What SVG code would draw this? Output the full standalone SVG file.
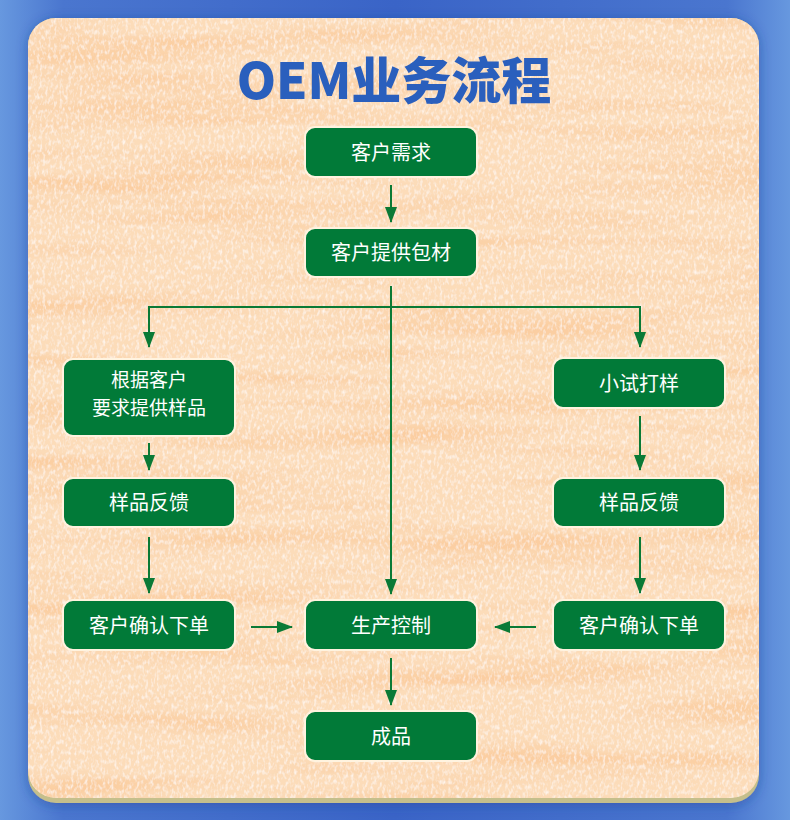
<svg xmlns="http://www.w3.org/2000/svg" width="790" height="820" viewBox="0 0 790 820">
<defs>
<linearGradient id="bg" x1="0" y1="0" x2="1" y2="0">
<stop offset="0" stop-color="#6798df"/>
<stop offset="0.08" stop-color="#4a76cf"/>
<stop offset="0.5" stop-color="#3a64c7"/>
<stop offset="0.92" stop-color="#4a76cf"/>
<stop offset="1" stop-color="#6798df"/>
</linearGradient>
<filter id="shadow" x="-10%" y="-10%" width="120%" height="120%">
<feGaussianBlur in="SourceAlpha" stdDeviation="6"/>
<feOffset dx="0" dy="2" result="b"/>
<feFlood flood-color="#1d3f8f" flood-opacity="0.45"/>
<feComposite in2="b" operator="in" result="sh"/>
<feMerge><feMergeNode in="sh"/><feMergeNode in="SourceGraphic"/></feMerge>
</filter>
<filter id="wood" x="0" y="0" width="100%" height="100%">
<feTurbulence type="fractalNoise" baseFrequency="0.003 0.04" numOctaves="3" seed="7" result="n"/>
<feColorMatrix in="n" type="matrix" values="0 0 0 0 0.96  0 0 0 0 0.62  0 0 0 0 0.36  3 0 0 0 -1.35" result="s"/>
<feComposite in="s" in2="SourceAlpha" operator="in" result="s2"/>
<feTurbulence type="fractalNoise" baseFrequency="0.35 0.2" numOctaves="2" seed="2" result="g"/>
<feColorMatrix in="g" type="matrix" values="0 0 0 0 1  0 0 0 0 1  0 0 0 0 1  1.6 0 0 0 -0.72" result="w"/>
<feComposite in="w" in2="SourceAlpha" operator="in" result="w2"/>
<feMerge><feMergeNode in="SourceGraphic"/><feMergeNode in="s2"/><feMergeNode in="w2"/></feMerge>
</filter>
<marker id="arr" viewBox="0 0 16 12" markerWidth="16" markerHeight="12" refX="15" refY="6" orient="auto" markerUnits="userSpaceOnUse">
<path d="M0,0 L16,6 L0,12 z" fill="#0a7a36"/>
</marker>
<style>
.node rect{fill:#017a38;stroke:#fff3df;stroke-width:2}
.node text{fill:#ffffff;font-family:"Noto Sans CJK SC","Noto Sans",sans-serif;font-size:20px;text-anchor:middle}
.node text.sm{font-size:19px}
.conn line,.conn polyline{stroke:#0a7a36;stroke-width:2;fill:none;marker-end:url(#arr)}
.title{fill:#2a5fbd;font-family:"Noto Sans CJK SC","Noto Sans",sans-serif;font-weight:900;font-size:50px;text-anchor:middle}
</style>
</defs>
<rect x="0" y="0" width="790" height="820" fill="url(#bg)"/>
<g id="card" filter="url(#shadow)">
<rect x="28" y="18" width="731" height="785" rx="28" fill="#c5bf8c"/>
</g>
<rect x="28" y="18" width="731" height="780" rx="28" fill="#fcdcb9" filter="url(#wood)"/>
<text class="title" x="394" y="99">OEM业务流程</text>
<g id="connectors" class="conn">
<line x1="391" y1="185" x2="391" y2="222"/>
<line x1="391" y1="286" x2="391" y2="594"/>
<polyline points="391,307 149,307 149,347"/>
<polyline points="391,307 640,307 640,347"/>
<line x1="149" y1="443" x2="149" y2="470"/>
<line x1="640" y1="416" x2="640" y2="470"/>
<line x1="149" y1="537" x2="149" y2="593"/>
<line x1="640" y1="537" x2="640" y2="593"/>
<line x1="251" y1="627" x2="292" y2="627"/>
<line x1="536" y1="627" x2="495" y2="627"/>
<line x1="391" y1="658" x2="391" y2="705"/>
</g>
<g id="n1" class="node"><rect x="305" y="127" width="172" height="50" rx="10"/><text x="391" y="160">客户需求</text></g>
<g id="n2" class="node"><rect x="305" y="228" width="172" height="49" rx="10"/><text x="391" y="260">客户提供包材</text></g>
<g id="n3" class="node"><rect x="63" y="359" width="172" height="77" rx="10"/><text class="sm" x="149" y="387">根据客户</text><text class="sm" x="149" y="415">要求提供样品</text></g>
<g id="n4" class="node"><rect x="553" y="358" width="172" height="50" rx="10"/><text x="639" y="391">小试打样</text></g>
<g id="n5" class="node"><rect x="63" y="478" width="172" height="49" rx="10"/><text x="149" y="510">样品反馈</text></g>
<g id="n6" class="node"><rect x="553" y="478" width="172" height="49" rx="10"/><text x="639" y="510">样品反馈</text></g>
<g id="n7" class="node"><rect x="63" y="600" width="172" height="50" rx="10"/><text x="149" y="633">客户确认下单</text></g>
<g id="n8" class="node"><rect x="305" y="600" width="172" height="50" rx="10"/><text x="391" y="633">生产控制</text></g>
<g id="n9" class="node"><rect x="553" y="600" width="172" height="50" rx="10"/><text x="639" y="633">客户确认下单</text></g>
<g id="n10" class="node"><rect x="305" y="711" width="172" height="50" rx="10"/><text x="391" y="744">成品</text></g>
</svg>
